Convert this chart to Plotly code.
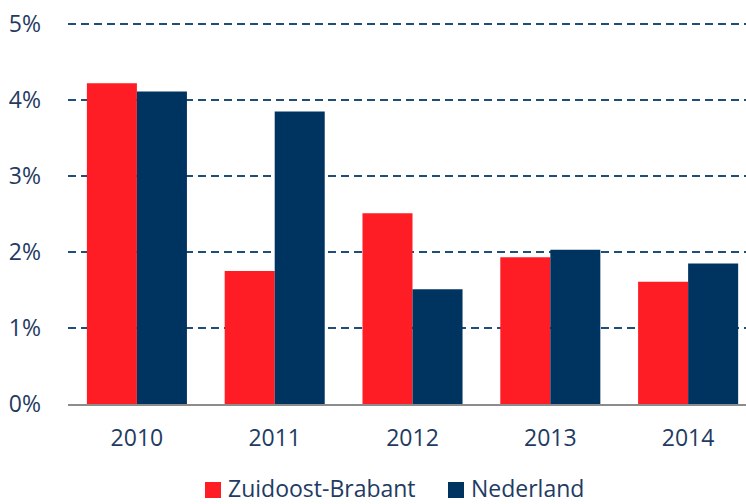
import plotly.graph_objects as go

years = ["2010", "2011", "2012", "2013", "2014"]
zuidoost_brabant = [4.22, 1.75, 2.51, 1.93, 1.61]
nederland = [4.11, 3.85, 1.51, 2.03, 1.85]
y_ticks = [0, 1, 2, 3, 4, 5]
y_tick_text = ["0%", "1%", "2%", "3%", "4%", "5%"]
series_names = ["Zuidoost-Brabant", "Nederland"]

RED = "#FF1D25"
NAVY = "#003460"
TEXT = "#1F3B63"
FONT = "Open Sans"
FS = 23

W, H = 746, 504
ML, MR, MT, MB = 68, 0, 22, 100
PW, PH = W - ML - MR, H - MT - MB


def px_x(px):
    return (px - ML) / PW


def px_y(py):
    return (H - MB - py) / PH


fig = go.Figure()
fig.add_trace(go.Bar(x=years, y=zuidoost_brabant, name=series_names[0],
                     marker=dict(color=RED, line=dict(width=0)), showlegend=False))
fig.add_trace(go.Bar(x=years, y=nederland, name=series_names[1],
                     marker=dict(color=NAVY, line=dict(width=0)), showlegend=False))

# Legend drawn as swatches + labels below the axis
legend_items = [(series_names[0], RED, 205), (series_names[1], NAVY, 448)]
for name, color, x0 in legend_items:
    fig.add_shape(type="rect", xref="paper", yref="paper",
                  x0=px_x(x0), x1=px_x(x0 + 16), y0=px_y(498), y1=px_y(482),
                  fillcolor=color, line=dict(width=0))
    fig.add_annotation(xref="paper", yref="paper", x=px_x(x0 + 21), y=px_y(488),
                       xanchor="left", yanchor="middle", showarrow=False,
                       text=name, font=dict(family=FONT, size=FS, color=TEXT))

fig.update_layout(
    width=W, height=H,
    margin=dict(l=ML, r=MR, t=MT, b=MB),
    paper_bgcolor="white", plot_bgcolor="white",
    barmode="group", bargap=0.274, bargroupgap=0,
    font=dict(family=FONT, color=TEXT, size=FS),
    showlegend=False,
)
fig.update_xaxes(
    type="category", range=[-0.5, 4.42],
    showgrid=False, showline=True, linecolor="#8C8C8C", linewidth=2,
    ticks="", tickfont=dict(size=FS, color=TEXT), zeroline=False,
    ticklabelstandoff=12,
)
fig.update_yaxes(
    range=[0, 5.026], tickvals=y_ticks, ticktext=y_tick_text,
    showgrid=True, gridcolor="#1F4E79", gridwidth=2, griddash="8px,5px",
    showline=False, zeroline=False, ticks="", ticklabelstandoff=26,
    tickfont=dict(size=FS, color=TEXT),
)

fig.write_html("out.html")
